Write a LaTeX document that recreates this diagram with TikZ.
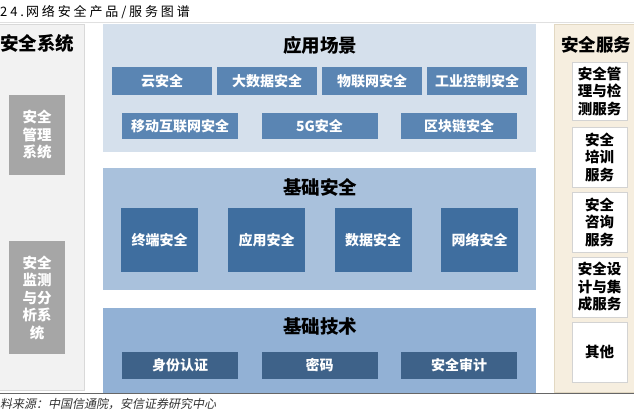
\documentclass[tikz,border=0pt]{standalone}
\usepackage{fontspec}
\setmainfont{Noto Sans CJK SC}
\newfontfamily\cjkit[FakeSlant=0.2]{Noto Sans CJK SC}
\newfontfamily\titlefont[LetterSpace=22]{Noto Sans CJK SC}
\definecolor{leftbg}{HTML}{F2F2F2}
\definecolor{leftbd}{HTML}{D9D9D9}
\definecolor{graybox}{HTML}{A6A6A6}
\definecolor{panA}{HTML}{D5E0EC}
\definecolor{boxA}{HTML}{5A85B3}
\definecolor{panB}{HTML}{A9C1DC}
\definecolor{boxB}{HTML}{3F6E9F}
\definecolor{panC}{HTML}{92B1D5}
\definecolor{boxC}{HTML}{3E6289}
\definecolor{rightbg}{HTML}{F6EEDF}
\definecolor{rightbd}{HTML}{E2D8C2}
\definecolor{rbd}{HTML}{D3D3D3}
\tikzset{
  panel/.style={draw=none, inner sep=0pt},
  head/.style={font=\fontsize{18.5}{20}\selectfont\bfseries, text=black, inner sep=0pt},
  bluebox/.style={text=white, inner sep=0pt, font=\fontsize{14}{16}\selectfont\bfseries},
  gbox/.style={fill=graybox, text=white, inner sep=0pt, align=center, font=\fontsize{14.5}{17.5}\selectfont\bfseries},
  wbox/.style={fill=white, draw=rbd, line width=0.8pt, text=black, inner sep=0pt, align=center, font=\fontsize{14.5}{17.5}\selectfont\bfseries},
}
\begin{document}
\begin{tikzpicture}[x=1pt,y=-1pt]
\useasboundingbox (0,0) rectangle (634,418);
\clip (0,0) rectangle (634,418);
\fill[white] (0,0) rectangle (634,418);
% title
\node[anchor=west, inner sep=0pt, font=\fontsize{13}{15}\selectfont\titlefont] (title) at (0,12) {24.\,网络安全产品/服务图谱};
\draw[draw=black!12, line width=0.8pt] (0,22.5) -- (634,22.5);
% left panel
\node[panel, fill=leftbg, draw=leftbd, minimum width=86, minimum height=366] (left) at (41,207) {};
\node[head] (lefth) at (37,43) {安全系统};
\node[gbox, minimum width=56, minimum height=80] (g1) at (37,135) {安全\\管理\\系统};
\node[gbox, minimum width=56, minimum height=113] (g2) at (37,297.5) {安全\\监测\\与分\\析系\\统};
% panel A
\node[panel, fill=panA, minimum width=433, minimum height=128] (pa) at (319.5,88) {};
\node[head] (pah) at (320,45) {应用场景};
\foreach \n/\x/\t in {a1/162/云安全, a2/267/大数据安全, a3/372/物联网安全, a4/477/工业控制安全}
  \node[bluebox, fill=boxA, minimum width=100, minimum height=28] (\n) at (\x,81) {\t};
\foreach \n/\x/\t in {a5/180/移动互联网安全, a6/319.5/5G安全, a7/459/区块链安全}
  \node[bluebox, fill=boxA, minimum width=116, minimum height=26] (\n) at (\x,126) {\t};
% panel B
\node[panel, fill=panB, minimum width=433, minimum height=122] (pb) at (319.5,229) {};
\node[head] (pbh) at (320,187) {基础安全};
\foreach \n/\x/\t in {b1/159.5/终端安全, b2/266.5/应用安全, b3/373/数据安全, b4/479.5/网络安全}
  \node[bluebox, fill=boxB, minimum width=77, minimum height=64] (\n) at (\x,240) {\t};
% panel C
\node[panel, fill=panC, minimum width=433, minimum height=85] (pc) at (319.5,350.5) {};
\node[head] (pch) at (320,326) {基础技术};
\foreach \n/\x/\t in {c1/180/身份认证, c2/319.5/密码, c3/459/安全审计}
  \node[bluebox, fill=boxC, minimum width=116, minimum height=27] (\n) at (\x,365.5) {\t};
% right panel
\node[panel, fill=rightbg, draw=rightbd, minimum width=86, minimum height=368] (right) at (597,208) {};
\node[inner sep=0pt, font=\fontsize{17.5}{19}\selectfont\bfseries, anchor=west] (righth) at (561,45) {安全服务};
\node[wbox, minimum width=55, minimum height=58] (r1) at (599.5,91) {安全管\\理与检\\测服务};
\node[wbox, minimum width=55, minimum height=60] (r2) at (599.5,157) {安全\\培训\\服务};
\node[wbox, minimum width=55, minimum height=60] (r3) at (599.5,222) {安全\\咨询\\服务};
\node[wbox, minimum width=55, minimum height=60] (r4) at (599.5,287) {安全设\\计与集\\成服务};
\node[wbox, minimum width=55, minimum height=60] (r5) at (599.5,352) {其他};
% bottom line and source
\draw[draw=black!60, line width=0.8pt] (0,393.5) -- (634,393.5);
\node[anchor=west, inner sep=0pt, font=\fontsize{12}{14}\selectfont\cjkit, text=black!80] (src) at (0,404) {料来源：中国信通院，安信证券研究中心};
\end{tikzpicture}
\end{document}
